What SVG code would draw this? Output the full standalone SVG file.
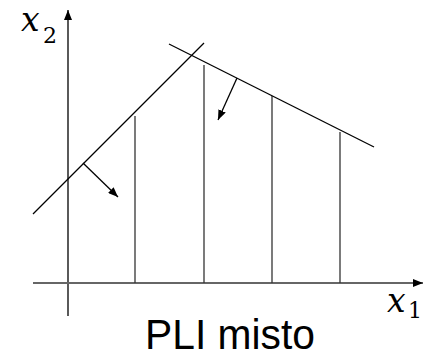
<svg xmlns="http://www.w3.org/2000/svg" width="423" height="357" viewBox="0 0 423 357">
<style>
.ln{stroke:#000;stroke-width:1.3;fill:none}
.vl{stroke:#333;stroke-width:1.3;fill:none}
.math{font-family:"DejaVu Serif","Liberation Serif",serif;font-style:italic;fill:#000}
.sub{font-family:"DejaVu Serif","Liberation Serif",serif;fill:#000}
</style>
<defs>
<marker id="ah" viewBox="0 0 10 8" refX="10" refY="4" markerWidth="10" markerHeight="8" markerUnits="userSpaceOnUse" orient="auto">
<path d="M0,0 L10,4 L0,8 Z" fill="#000"/>
</marker>
</defs>
<rect width="423" height="357" fill="#fff"/>
<g id="axes">
<line x1="68" y1="316" x2="68" y2="10" class="ln" marker-end="url(#ah)"/>
<line x1="33" y1="283" x2="423" y2="283" stroke="#666" stroke-width="1.8" marker-end="url(#ah)"/>
</g>
<g id="verticals">
<line x1="135" y1="116" x2="135" y2="283" class="vl"/>
<line x1="204" y1="65" x2="204" y2="283" class="vl"/>
<line x1="272" y1="96" x2="272" y2="283" class="vl"/>
<line x1="340" y1="132" x2="340" y2="283" class="vl"/>
</g>
<g id="constraints">
<line x1="33" y1="214" x2="204" y2="43" class="ln"/>
<line x1="169" y1="44" x2="374" y2="147" class="ln"/>
</g>
<g id="connectors">
<line x1="83" y1="163" x2="118" y2="197" class="ln" marker-end="url(#ah)"/>
<line x1="237" y1="78" x2="218" y2="120" class="ln" marker-end="url(#ah)"/>
</g>
<g id="labels">
<text x="21" y="31" class="math" font-size="33">x</text>
<text x="43" y="43" class="sub" font-size="22">2</text>
<text x="387" y="312" class="math" font-size="33">x</text>
<text x="408" y="318" class="sub" font-size="22">1</text>
<text x="145" y="349" font-family="Liberation Sans, Arial, sans-serif" font-size="42" textLength="170" lengthAdjust="spacingAndGlyphs" fill="#000">PLI misto</text>
</g>
</svg>
